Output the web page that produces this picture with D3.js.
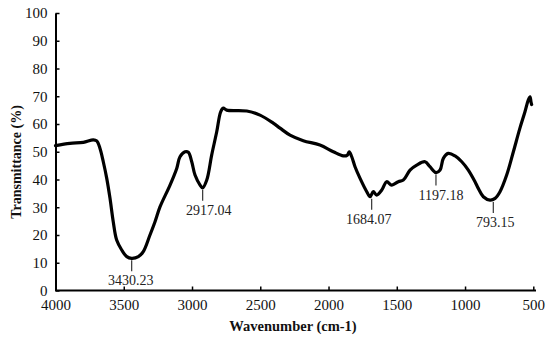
<!DOCTYPE html>
<html><head><meta charset="utf-8">
<script src="https://cdn.jsdelivr.net/npm/d3@7"></script>
<style>body{margin:0;background:#fff}svg{display:block}svg text{font-family:'Liberation Serif','Times New Roman',serif}</style>
</head><body>
<svg id="c" width="550" height="340"></svg>
<script>
const wavenumbers = [4000,3894,3796,3723,3698,3674,3650,3625,3601,3577,3552,3515,3478,3442,3393,3357,3308,3271,3234,3161,3112,3088,3051,3027,3002,2978,2941,2922,2892,2856,2819,2790,2771,2746,2599,2502,2405,2355,2282,2185,2063,1965,1892,1862,1848,1830,1806,1769,1720,1696,1672,1647,1610,1574,1537,1489,1452,1403,1354,1293,1257,1213,1183,1159,1123,1073,1024,976,927,903,866,817,780,744,695,646,598,561,537,524,517,512];
const transmittance = [52.2,53.0,53.4,54.3,53.9,51.2,46.4,40.5,33.3,24.8,18.2,14.6,12.2,11.6,12.2,14.0,20.0,24.8,30.2,38.0,44.0,48.2,50.0,49.8,46.4,41.6,38.0,37.0,39.8,48.8,57.2,64.4,65.7,65.0,64.7,63.2,60.3,58.5,56.0,54.0,52.4,50.0,48.5,48.8,50.0,48.2,44.6,40.4,35.6,33.8,35.6,34.4,36.2,39.2,38.0,39.2,39.8,43.4,45.2,46.4,44.6,42.5,43.4,47.6,49.4,48.5,46.4,43.4,39.2,36.8,33.8,32.6,33.2,35.6,41.6,50.0,58.5,64.4,68.6,69.8,68.0,67.0];
const peakWavenumbers = [3442,2922,1684,1213,793];
const peakValues = [11.6,37.0,33.8,42.5,32.6];
const peakLabels = ["3430.23","2917.04","1684.07","1197.18","793.15"];
const peakLabelShift = [-1,6,-3,5,2];
const xTicks = [4000,3500,3000,2500,2000,1500,1000,500];
const yTicks = [0,10,20,30,40,50,60,70,80,90,100];

const svg = d3.select("#c");
const x = d3.scaleLinear().domain([4000,500]).range([55.5,533.3]);
const y = d3.scaleLinear().domain([0,100]).range([290.5,13]);
const serif = "'Liberation Serif','Times New Roman',serif";

// axes
const xAxis = svg.append("g").attr("transform","translate(0,290.5)")
  .call(d3.axisBottom(x).tickValues(xTicks).tickSizeInner(-4).tickSizeOuter(0).tickPadding(9).tickFormat(d3.format("d")));
const yAxis = svg.append("g").attr("transform","translate(55.5,0)")
  .call(d3.axisLeft(y).tickValues(yTicks).tickSizeInner(-4).tickSizeOuter(0).tickPadding(8).tickFormat(d3.format("d")));
[xAxis,yAxis].forEach(a=>{
  a.attr("font-family",serif).attr("font-size",15);
  a.select(".domain").attr("stroke","#000").attr("stroke-width",2);
  a.selectAll(".tick line").attr("stroke","#000").attr("stroke-width",1.5);
  a.selectAll("text").style("font-family",serif).style("font-size","15px").attr("fill","#111");
});
xAxis.select(".domain").attr("d","M55.5,0H536");

// curve
const data = wavenumbers.map((w,i)=>[w,transmittance[i]]);
svg.append("path").datum(data)
  .attr("fill","none").attr("stroke","#000").attr("stroke-width",3.2)
  .attr("stroke-linejoin","round").attr("stroke-linecap","round")
  .attr("d", d3.line().x(d=>x(d[0])).y(d=>y(d[1])).curve(d3.curveCatmullRom.alpha(0.5)));

// peak annotations
peakWavenumbers.forEach((w,i)=>{
  const px = x(w), py = y(peakValues[i]);
  svg.append("line").attr("x1",px).attr("x2",px).attr("y1",py+2).attr("y2",py+13)
    .attr("stroke","#333").attr("stroke-width",1.2);
  svg.append("text").attr("x",px+peakLabelShift[i]).attr("y",py+27)
    .attr("text-anchor","middle").style("font-family",serif).style("font-size","14px").attr("fill","#222")
    .text(peakLabels[i]);
});

// axis titles
svg.append("text").attr("x",293).attr("y",331).attr("text-anchor","middle")
  .style("font-family",serif).style("font-weight","bold").style("font-size","14.5px").attr("fill","#111")
  .text("Wavenumber (cm-1)");
svg.append("text").attr("transform","translate(21,162) rotate(-90)").attr("text-anchor","middle")
  .style("font-family",serif).style("font-weight","bold").style("font-size","14px").attr("fill","#111")
  .text("Transmittance (%)");
</script>
</body></html>
